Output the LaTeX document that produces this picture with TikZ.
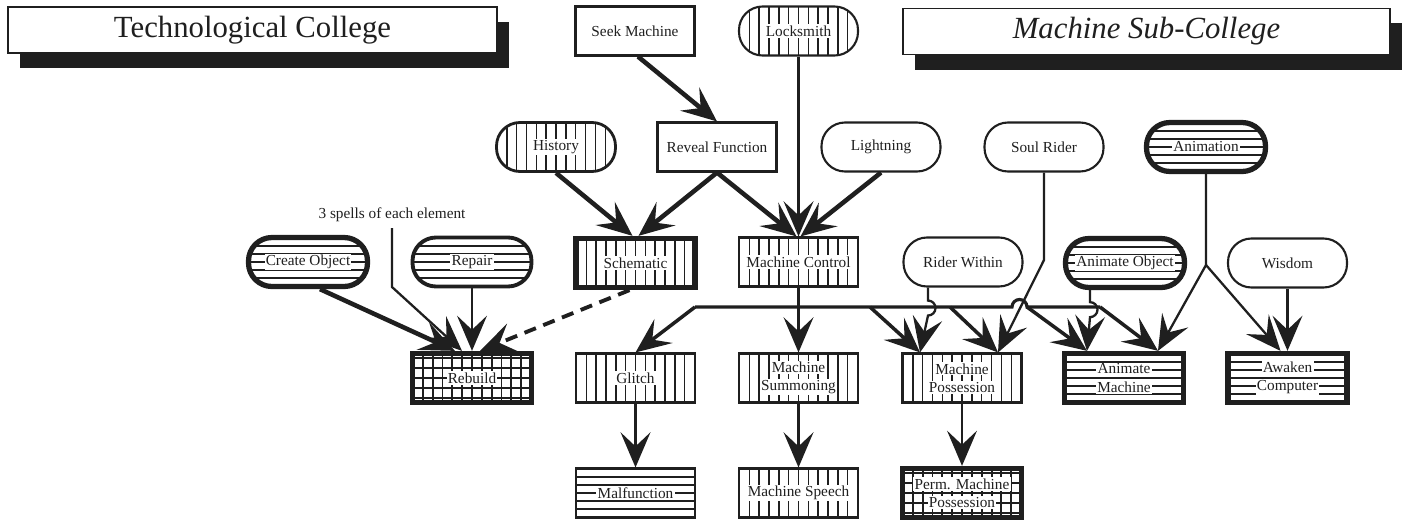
\documentclass[tikz,border=0pt]{standalone}
\usepackage{fontspec}
\setmainfont{Liberation Serif}
\usetikzlibrary{arrows.meta,shadows}
\definecolor{ink}{gray}{0.12}
\newcommand{\wb}[1]{{\setlength{\fboxsep}{0.7pt}\colorbox{white}{#1}}}
\begin{document}
\begin{tikzpicture}[font=\fontsize{8.7}{10.4}\selectfont, color=ink,
    box/.style={draw, line width=1.2pt, minimum width=2.38cm, minimum height=0.98cm, align=center, inner sep=1pt},
    pill/.style={box, rounded corners=0.47cm},
    heavy/.style={line width=3pt},
    vstripe/.style={path picture={
      \foreach \i in {-12,...,12}
        \draw[line width=0.8pt] ([xshift=\i*5.6pt]path picture bounding box.south) -- ([xshift=\i*5.6pt]path picture bounding box.north);}},
    hstripe/.style={path picture={
      \foreach \i in {-4,...,4}
        \draw[line width=0.8pt] ([yshift=\i*4.6pt]path picture bounding box.west) -- ([yshift=\i*4.6pt]path picture bounding box.east);}},
    mesh/.style={path picture={
      \foreach \i in {-12,...,12}
        \draw[line width=1.1pt] ([xshift=\i*5.6pt]path picture bounding box.south) -- ([xshift=\i*5.6pt]path picture bounding box.north);
      \foreach \i in {-4,...,4}
        \draw[line width=1.1pt] ([yshift=\i*5.6pt]path picture bounding box.west) -- ([yshift=\i*5.6pt]path picture bounding box.east);}},
    college/.style={draw, line width=1pt, fill=white, minimum width=9.78cm, minimum height=0.92cm,
      font=\fontsize{17.5}{20}\selectfont,
      drop shadow={shadow xshift=0.24cm, shadow yshift=-0.3cm, fill=ink, opacity=1}},
    link/.style={line width=2.6pt, -{Stealth[length=20pt,width=17pt,inset=8pt]}},
    wire/.style={line width=1.3pt, -{Stealth[length=20pt,width=17pt,inset=8pt]}},
    branch/.style={link, line width=2pt},
  ]
  \useasboundingbox (0,0) rectangle (28.12,10.44);

  % colleges
  \node[college] (tech) at (5.05,9.84) {Technological College};
  \node[college, minimum width=9.74cm, font=\fontsize{17.5}{20}\selectfont\itshape] (msub) at (22.93,9.81) {Machine Sub-College};

  % spells
  \node[box] (seek) at (12.70,9.82) {Seek Machine};
  \node[pill, vstripe] (lock) at (15.97,9.82) {\wb{Locksmith}};
  \node[pill, vstripe, line width=1.6pt] (hist) at (11.12,7.50) {\wb{History}};
  \node[box] (reveal) at (14.34,7.50) {Reveal Function};
  \node[pill] (light) at (17.62,7.50) {Lightning};
  \node[pill] (soul) at (20.88,7.50) {Soul Rider};
  \node[pill, hstripe, heavy] (anim) at (24.12,7.50) {\wb{Animation}};

  \node[pill, hstripe, heavy] (create) at (6.16,5.20) {\wb{Create Object}};
  \node[pill, hstripe, line width=2.2pt] (repair) at (9.44,5.20) {\wb{Repair}};
  \node[box, vstripe, heavy] (schem) at (12.71,5.18) {\wb{Schematic}};
  \node[box, vstripe] (mctrl) at (15.97,5.20) {\wb{Machine Control}};
  \node[pill] (rider) at (19.26,5.20) {Rider Within};
  \node[pill, hstripe, heavy] (aobj) at (22.50,5.18) {\wb{Animate Object}};
  \node[pill] (wisdom) at (25.75,5.18) {Wisdom};

  \node[box, mesh, heavy] (rebuild) at (9.44,2.88) {\wb{Rebuild}};
  \node[box, vstripe] (glitch) at (12.71,2.88) {\wb{Glitch}};
  \node[box, vstripe] (summon) at (15.97,2.88) {\wb{Machine}\\\wb{Summoning}};
  \node[box, vstripe] (possess) at (19.24,2.88) {\wb{Machine}\\\wb{Possession}};
  \node[box, hstripe, heavy] (amach) at (22.48,2.88) {\wb{Animate}\\\wb{Machine}};
  \node[box, hstripe, heavy] (awaken) at (25.75,2.88) {\wb{Awaken}\\\wb{Computer}};

  \node[box, hstripe] (malf) at (12.71,0.58) {\wb{Malfunction}};
  \node[box, vstripe] (speech) at (15.97,0.58) {\wb{Machine Speech}};
  \node[box, mesh, heavy] (perm) at (19.24,0.58) {\wb{Perm. Machine}\\\wb{Possession}};

  \node (spells) at (7.84,6.14) {3 spells of each element};

  % bends and the common line
  \coordinate (spellbend) at (7.84,4.70);
  \coordinate (soulbend) at (20.88,5.24);
  \coordinate (animfork) at (24.12,5.14);
  \coordinate (busL) at (13.90,4.30);
  \coordinate (busA) at (17.40,4.30);
  \coordinate (busB) at (19.00,4.30);
  \coordinate (hop) at (20.39,4.30);
  \coordinate (busC) at (20.54,4.30);
  \coordinate (busR) at (22.00,4.30);

  % top rows
  \draw[link] ([xshift=0.06cm]seek.south) -- (reveal.north);
  \draw[wire] (lock.south) -- (mctrl.north);
  \draw[link] (hist.south) -- ([xshift=-0.06cm]schem.north);
  \draw[link] (reveal.south) -- ([xshift=0.06cm]schem.north);
  \draw[link] (reveal.south) -- ([xshift=-0.04cm]mctrl.north);
  \draw[link] (light.south) -- ([xshift=0.04cm]mctrl.north);

  % rebuild
  \draw[link] ([xshift=0.24cm]create.south) -- ([xshift=-0.34cm]rebuild.north);
  \draw[wire] (spells.south) -- (spellbend) -- ([xshift=-0.2cm]rebuild.north);
  \draw[wire, line width=1.6pt] (repair.south) -- (rebuild.north);
  \draw[link, line width=2.2pt, dash pattern=on 7pt off 4.5pt] ([xshift=-0.12cm]schem.south) -- ([xshift=0.16cm]rebuild.north);

  % machine control
  \draw[wire, line width=1.6pt] (mctrl.south) -- (summon.north);
  \draw[line width=1.8pt] (busL) -- ([xshift=-0.15cm]hop) arc[start angle=180, end angle=0, radius=0.15] -- (busR);
  \draw[branch] (busL) -- (glitch.north);
  \draw[branch] (busA) -- ([xshift=-0.84cm]possess.north);
  \draw[branch] (busB) -- ([xshift=0.72cm]possess.north);
  \draw[branch] (busC) -- ([xshift=-0.74cm]amach.north);
  \draw[branch] (busR) -- ([xshift=0.68cm]amach.north);

  % machine sub-college
  \draw[wire] (soul.south) -- (soulbend) -- ([xshift=0.72cm]possess.north);
  \draw[wire] ([xshift=-0.7cm]rider.south) -- ++(0,-0.26) arc[start angle=90, end angle=-90, radius=0.15] -- ([xshift=-0.84cm]possess.north);
  \draw[wire] ([xshift=-0.7cm]aobj.south) -- ++(0,-0.24) arc[start angle=90, end angle=-90, radius=0.15] -- ([xshift=-0.74cm]amach.north);
  \draw[wire] (anim.south) -- (animfork) -- ([xshift=0.68cm]amach.north);
  \draw[wire] (animfork) -- ([xshift=-0.14cm]awaken.north);
  \draw[wire] (wisdom.south) -- (awaken.north);

  % bottom row
  \draw[wire, line width=1.6pt] (glitch.south) -- (malf.north);
  \draw[wire, line width=1.6pt] (summon.south) -- (speech.north);
  \draw[wire, line width=1.6pt] (possess.south) -- (perm.north);
\end{tikzpicture}
\end{document}
